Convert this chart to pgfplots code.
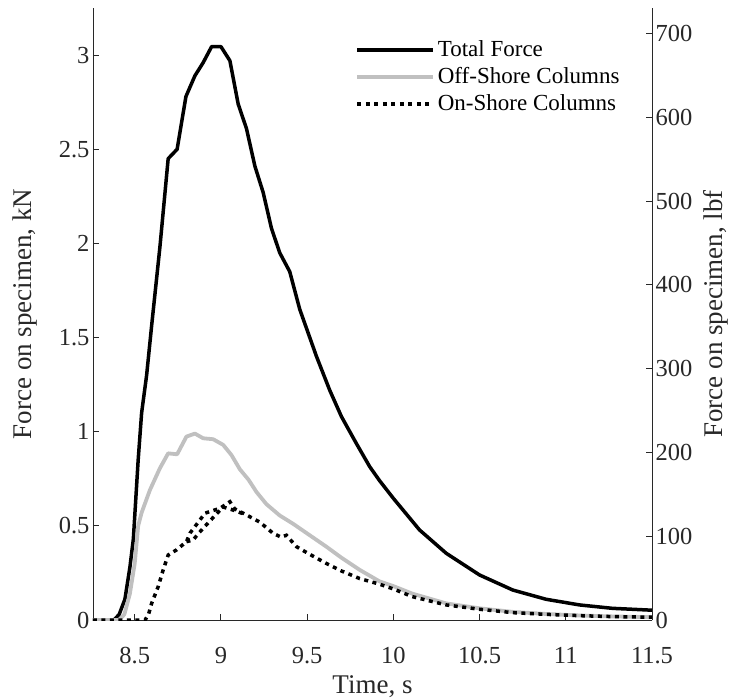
\documentclass[border=0pt]{standalone}
\usepackage{fontspec}
\setmainfont{Liberation Serif}
\usepackage{pgfplots}
\pgfplotsset{compat=1.18}
\definecolor{offgray}{RGB}{192,192,192}
\definecolor{axgray}{RGB}{40,40,40}
\begin{document}
\begin{tikzpicture}
\useasboundingbox (-93bp,-78bp) rectangle (649bp,620bp);
\pgfplotsset{
  common/.style={
    at={(0,0)}, anchor=south west,
    scale only axis, width=559bp, height=612bp,
    xmin=8.258, xmax=11.5,
    tick align=inside, major tick length=6bp,
    axis line style={axgray, line width=0.9bp},
    tick style={axgray, line width=0.9bp},
    ticklabel style={font=\fontsize{24.5bp}{28bp}\selectfont, text=axgray},
    /pgf/number format/assume math mode=true,
    label style={font=\fontsize{27bp}{32bp}\selectfont, text=axgray},
  }
}
\begin{axis}[common,
  ymin=0, ymax=3.25,
  axis x line*=bottom, axis y line*=left,
  xtick={8.5,9,9.5,10,10.5,11,11.5},
  ytick={0,0.5,1,1.5,2,2.5,3},
  xticklabel style={yshift=-24bp},
  xlabel={Time, s},
  xlabel style={at={(axis description cs:0.5,-0.1193)}, anchor=base},
  ylabel={Force on specimen, kN},
  ylabel style={at={(axis description cs:-0.1216,0.5)}, anchor=center},
  legend style={draw=none, fill=none, at={(axis description cs:0.464,0.957)}, anchor=north west,
    font=\fontsize{23bp}{27bp}\selectfont, row sep=0bp,
    nodes={inner sep=2.5bp, text height=17bp, text depth=5bp}},
  legend cell align=left,
  legend image code/.code={\draw[#1] (0bp,0bp) -- (76bp,0bp);},
]
\addplot[black, line width=3.5bp, line join=round] coordinates {
(8.258,0) (8.38,0) (8.41,0.03) (8.443,0.11) (8.472,0.28) (8.492,0.43) (8.52,0.85) (8.54,1.10)
(8.569,1.30) (8.60,1.58) (8.646,1.98) (8.694,2.45) (8.746,2.50) (8.797,2.78) (8.849,2.89)
(8.897,2.96) (8.946,3.045) (9.0,3.045) (9.052,2.97) (9.10,2.74) (9.148,2.61) (9.197,2.41)
(9.245,2.27) (9.293,2.08) (9.341,1.95) (9.399,1.85) (9.457,1.65) (9.554,1.40) (9.631,1.22)
(9.699,1.08) (9.785,0.938) (9.863,0.814) (9.92,0.74) (10.0,0.646) (10.152,0.478) (10.307,0.354)
(10.5,0.239) (10.693,0.159) (10.886,0.110) (11.08,0.080) (11.27,0.062) (11.5,0.052)
};
\addlegendentry{Total Force}
\addplot[offgray, line width=3.8bp, line join=round] coordinates {
(8.258,0) (8.41,0) (8.44,0.03) (8.472,0.14) (8.50,0.30) (8.52,0.50) (8.540,0.57) (8.588,0.69)
(8.646,0.806) (8.694,0.885) (8.746,0.88) (8.80,0.974) (8.849,0.99) (8.897,0.965) (8.955,0.96)
(9.013,0.93) (9.061,0.876) (9.11,0.80) (9.16,0.745) (9.206,0.68) (9.264,0.615) (9.341,0.555)
(9.42,0.51) (9.515,0.45) (9.612,0.389) (9.70,0.33) (9.805,0.266) (9.92,0.205) (10.0,0.18)
(10.11,0.14) (10.307,0.088) (10.5,0.062) (10.693,0.043) (10.886,0.032) (11.08,0.024)
(11.27,0.019) (11.5,0.015)
};
\addlegendentry{Off-Shore Columns}
\addplot[black, line width=3.5bp, dash pattern=on 4bp off 4.5bp] coordinates {
(8.258,0) (8.56,0) (8.58,0.03) (8.598,0.088) (8.636,0.177) (8.665,0.266) (8.694,0.345)
(8.742,0.372) (8.80,0.416) (8.821,0.462) (8.878,0.531) (8.907,0.567) (8.95,0.58) (8.994,0.593)
(9.052,0.628) (9.08,0.59) (9.148,0.558) (9.225,0.52) (9.303,0.46) (9.35,0.44) (9.38,0.45)
(9.437,0.39) (9.505,0.354) (9.612,0.30) (9.70,0.26) (9.805,0.22) (9.92,0.19) (10.0,0.165)
(10.11,0.124) (10.307,0.08) (10.5,0.057) (10.693,0.039) (10.886,0.030) (11.08,0.023)
(11.27,0.018) (11.5,0.015)
};
\addlegendentry{On-Shore Columns}
\addplot[black, line width=3.5bp, dash pattern=on 4bp off 4.5bp, forget plot] coordinates {
(8.80,0.416) (8.839,0.425) (8.87,0.46) (8.93,0.52) (9.012,0.60) (9.07,0.584) (9.148,0.558)
};
\end{axis}
\begin{axis}[common,
  ymin=0, ymax=730.6,
  hide x axis, axis y line*=right,
  ytick={0,100,200,300,400,500,600,700},
  ylabel={Force on specimen, lbf},
  ylabel style={at={(axis description cs:1.1145,0.5)}, anchor=center},
]
\end{axis}
\end{tikzpicture}
\end{document}
